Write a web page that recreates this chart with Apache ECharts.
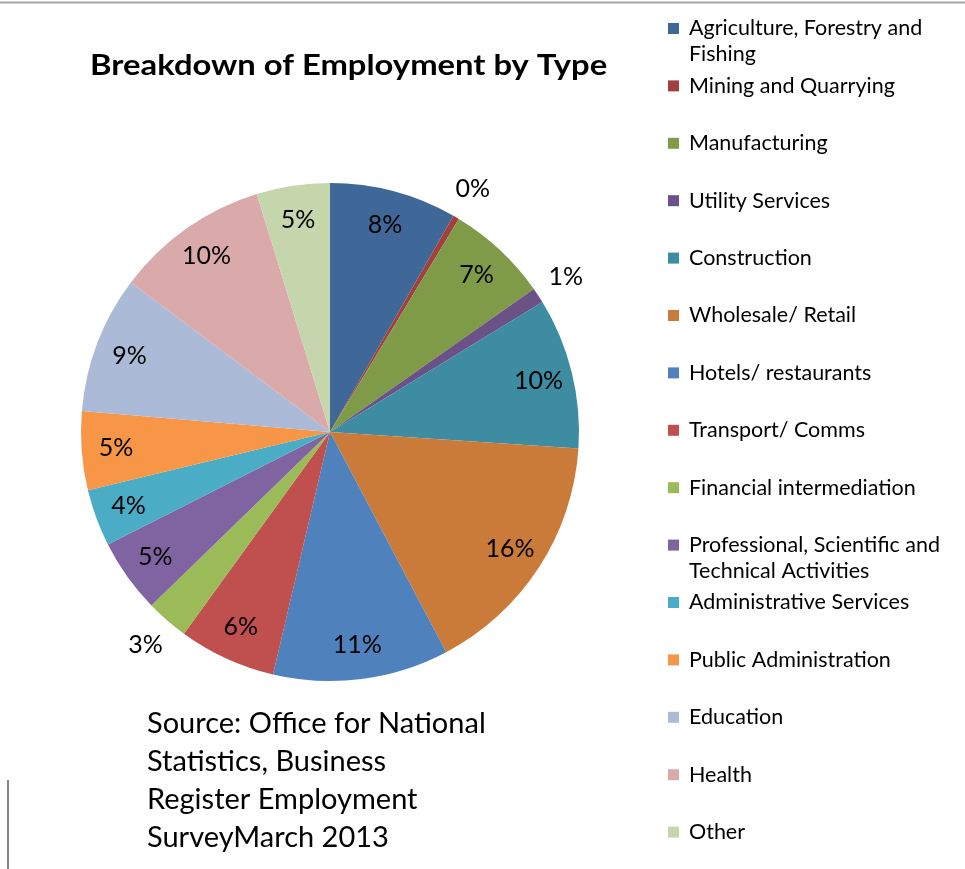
<!DOCTYPE html>
<html>
<head>
<meta charset="utf-8">
<title>Breakdown of Employment by Type</title>
<script src="https://cdn.jsdelivr.net/npm/echarts@6/dist/echarts.min.js"></script>
<style>
  html, body { margin: 0; padding: 0; background: #ffffff; }
  #chart { width: 965px; height: 869px; }
</style>
</head>
<body>
<div id="chart"></div>
<script>
// Employment sectors, clockwise from 12 o'clock
const categories = [
  'Agriculture, Forestry and Fishing',
  'Mining and Quarrying',
  'Manufacturing',
  'Utility Services',
  'Construction',
  'Wholesale/ Retail',
  'Hotels/ restaurants',
  'Transport/ Comms',
  'Financial intermediation',
  'Professional, Scientific and Technical Activities',
  'Administrative Services',
  'Public Administration',
  'Education',
  'Health',
  'Other'
];

// Share of employment (%)
const shares = [8.25, 0.4, 6.6, 1.0, 9.8, 16.2, 11.4, 6.3, 2.75, 4.8, 3.7, 5.1, 8.9, 10.0, 4.75];

const sliceColors = [
  '#3f6898', '#a1413e', '#7f9b48', '#6a5186', '#3d8ca1', '#cb7b39',
  '#4f81bd', '#c0504d', '#9bbb59', '#8064a2', '#4bacc6', '#f79646',
  '#aabad7', '#d9aaa9', '#c6d6ac'
];

// Where a legend entry wraps onto a second line
const legendWraps = {
  'Agriculture, Forestry and Fishing': ['Agriculture, Forestry and', 'Fishing'],
  'Professional, Scientific and Technical Activities': ['Professional, Scientific and', 'Technical Activities']
};

const titleText = 'Breakdown of Employment by Type';
const sourceLines = [
  'Source: Office for National',
  'Statistics, Business',
  'Register Employment',
  'SurveyMarch 2013'
];

const FONT = 'Lato, "Open Sans", sans-serif';
const center = [330, 432];
const R = 249;
const smallShare = 3; // slices below this get their label outside the rim
const clear = 'rgba(0,0,0,0)';

const pieData = categories.map((name, i) => ({
  name: name,
  value: shares[i],
  itemStyle: { color: sliceColors[i] }
}));

function pctLabel(p) { return Math.round(p.percent) + '%'; }

const labelFont = { fontFamily: FONT, fontSize: 25, color: '#000000' };

// a transparent ring that only carries percentage labels
function labelRing(radius, showIf) {
  return {
    type: 'pie',
    center: center,
    radius: radius,
    startAngle: 90,
    clockwise: true,
    silent: true,
    itemStyle: { color: clear, borderWidth: 0 },
    labelLine: { show: false },
    label: Object.assign({ show: true, position: 'inside', formatter: pctLabel }, labelFont),
    data: categories.map((name, i) => ({
      name: name,
      value: shares[i],
      itemStyle: { color: clear },
      label: { show: showIf(shares[i]) }
    }))
  };
}

const chart = echarts.init(document.getElementById('chart'), null, { renderer: 'canvas' });

chart.setOption({
  backgroundColor: '#ffffff',
  animation: false,
  legend: {
    orient: 'vertical',
    left: 668,
    top: -10.5,
    height: 1000,
    padding: 0,
    itemWidth: 11,
    itemHeight: 11,
    itemGap: -20.6,
    icon: 'rect',
    selectedMode: false,
    data: categories.map((name, i) => ({ name: name, itemStyle: { color: sliceColors[i] } })),
    formatter: function (name) {
      const lines = legendWraps[name] || [name, ''];
      return '\n' + lines.join('\n');
    },
    textStyle: {
      fontFamily: FONT,
      fontSize: 21.5,
      lineHeight: 26,
      color: '#000000',
      padding: [0, 0, 0, 5]
    }
  },
  series: [
    {
      // the slices themselves
      type: 'pie',
      center: center,
      radius: [0, R],
      startAngle: 90,
      clockwise: true,
      silent: true,
      label: { show: false },
      labelLine: { show: false },
      itemStyle: { borderWidth: 0 },
      data: pieData
    },
    labelRing([R * 0.7, R], v => v >= smallShare),
    labelRing([R, R * 1.24], v => v < smallShare)
  ],
  graphic: [
    {
      type: 'text',
      x: 90,
      y: 51,
      scaleX: 1.13,
      style: {
        text: titleText,
        font: 'bold 29px ' + FONT,
        fill: '#000000'
      }
    },
    {
      type: 'text',
      left: 147,
      top: 705,
      style: {
        text: sourceLines.join('\n'),
        font: '29px ' + FONT,
        lineHeight: 38,
        fill: '#000000'
      }
    },
    {
      type: 'line',
      shape: { x1: 0, y1: 2.5, x2: 965, y2: 2.5 },
      style: { stroke: '#a6a6a6', lineWidth: 2 }
    },
    {
      type: 'line',
      shape: { x1: 8, y1: 780, x2: 8, y2: 869 },
      style: { stroke: '#868686', lineWidth: 2 }
    }
  ]
});
</script>
</body>
</html>
